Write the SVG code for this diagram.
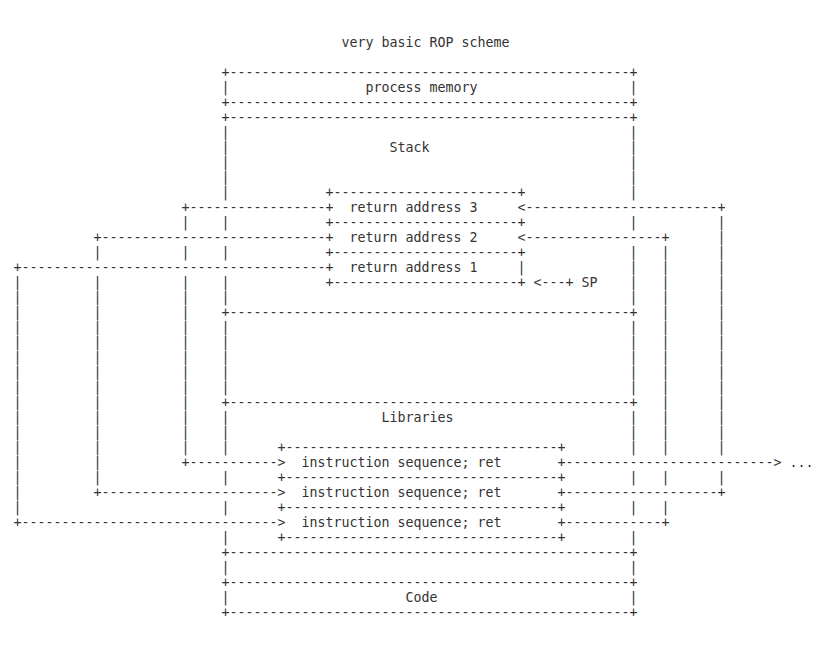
<svg xmlns="http://www.w3.org/2000/svg" width="828" height="672" viewBox="0 0 828 672">
<style>
text { font-family: "DejaVu Sans Mono", "Liberation Mono", monospace; font-size: 13.29px; fill: #333333; white-space: pre; }
</style>
<rect width="828" height="672" fill="#ffffff"/>
<g transform="translate(0,-1)">

<g id="title">
<text x="341.5" y="47.5">very basic ROP scheme</text>
</g>

<g id="process-memory">
<text x="221.5" y="77.5" textLength="416" lengthAdjust="spacing">+--------------------------------------------------+</text>
<text><tspan x="221.5" y="92.5">|</tspan><tspan x="629.5" y="92.5">|</tspan></text>
<text x="365.5" y="92.5">process memory</text>
<text x="221.5" y="107.5" textLength="416" lengthAdjust="spacing">+--------------------------------------------------+</text>
</g>

<g id="stack">
<text x="221.5" y="122.5" textLength="416" lengthAdjust="spacing">+--------------------------------------------------+</text>
<text><tspan x="221.5" y="137.5">|</tspan><tspan x="221.5" y="152.5">|</tspan><tspan x="221.5" y="167.5">|</tspan><tspan x="221.5" y="182.5">|</tspan><tspan x="221.5" y="197.5">|</tspan><tspan x="221.5" y="227.5">|</tspan><tspan x="221.5" y="257.5">|</tspan><tspan x="221.5" y="287.5">|</tspan><tspan x="221.5" y="302.5">|</tspan></text>
<text><tspan x="629.5" y="137.5">|</tspan><tspan x="629.5" y="152.5">|</tspan><tspan x="629.5" y="167.5">|</tspan><tspan x="629.5" y="182.5">|</tspan><tspan x="629.5" y="197.5">|</tspan><tspan x="629.5" y="227.5">|</tspan><tspan x="629.5" y="257.5">|</tspan><tspan x="629.5" y="272.5">|</tspan><tspan x="629.5" y="287.5">|</tspan><tspan x="629.5" y="302.5">|</tspan></text>
<text x="389.5" y="152.5">Stack</text>
</g>

<g id="return-addresses">
<text x="325.5" y="197.5" textLength="200" lengthAdjust="spacing">+-----------------------+</text>
<text x="349.5" y="212.5">return address 3</text>
<text x="325.5" y="227.5" textLength="200" lengthAdjust="spacing">+-----------------------+</text>
<text x="349.5" y="242.5">return address 2</text>
<text x="325.5" y="257.5" textLength="200" lengthAdjust="spacing">+-----------------------+</text>
<text x="349.5" y="272.5">return address 1</text>
<text x="517.5" y="272.5">|</text>
<text x="325.5" y="287.5" textLength="200" lengthAdjust="spacing">+-----------------------+</text>
</g>

<g id="sp">
<text x="581.5" y="287.5">SP</text>
</g>

<g id="free-region">
<text x="221.5" y="317.5" textLength="416" lengthAdjust="spacing">+--------------------------------------------------+</text>
<text><tspan x="221.5" y="332.5">|</tspan><tspan x="221.5" y="347.5">|</tspan><tspan x="221.5" y="362.5">|</tspan><tspan x="221.5" y="377.5">|</tspan><tspan x="221.5" y="392.5">|</tspan></text>
<text><tspan x="629.5" y="332.5">|</tspan><tspan x="629.5" y="347.5">|</tspan><tspan x="629.5" y="362.5">|</tspan><tspan x="629.5" y="377.5">|</tspan><tspan x="629.5" y="392.5">|</tspan></text>
</g>

<g id="libraries">
<text x="221.5" y="407.5" textLength="416" lengthAdjust="spacing">+--------------------------------------------------+</text>
<text><tspan x="221.5" y="422.5">|</tspan><tspan x="221.5" y="437.5">|</tspan><tspan x="221.5" y="452.5">|</tspan><tspan x="221.5" y="482.5">|</tspan><tspan x="221.5" y="512.5">|</tspan><tspan x="221.5" y="542.5">|</tspan></text>
<text><tspan x="629.5" y="422.5">|</tspan><tspan x="629.5" y="437.5">|</tspan><tspan x="629.5" y="452.5">|</tspan><tspan x="629.5" y="482.5">|</tspan><tspan x="629.5" y="512.5">|</tspan><tspan x="629.5" y="542.5">|</tspan></text>
<text x="381.5" y="422.5">Libraries</text>
</g>

<g id="gadgets">
<text x="277.5" y="452.5" textLength="288" lengthAdjust="spacing">+----------------------------------+</text>
<text x="301.5" y="467.5">instruction sequence; ret</text>
<text x="277.5" y="482.5" textLength="288" lengthAdjust="spacing">+----------------------------------+</text>
<text x="301.5" y="497.5">instruction sequence; ret</text>
<text x="277.5" y="512.5" textLength="288" lengthAdjust="spacing">+----------------------------------+</text>
<text x="301.5" y="527.5">instruction sequence; ret</text>
<text x="277.5" y="542.5" textLength="288" lengthAdjust="spacing">+----------------------------------+</text>
</g>

<g id="gap-region">
<text x="221.5" y="557.5" textLength="416" lengthAdjust="spacing">+--------------------------------------------------+</text>
<text><tspan x="221.5" y="572.5">|</tspan><tspan x="629.5" y="572.5">|</tspan></text>
</g>

<g id="code">
<text x="221.5" y="587.5" textLength="416" lengthAdjust="spacing">+--------------------------------------------------+</text>
<text><tspan x="221.5" y="602.5">|</tspan><tspan x="629.5" y="602.5">|</tspan></text>
<text x="405.5" y="602.5">Code</text>
<text x="221.5" y="617.5" textLength="416" lengthAdjust="spacing">+--------------------------------------------------+</text>
</g>

<g id="continuation">
<text x="789.5" y="467.5">...</text>
</g>

<g id="connectors">
<!-- return address 3 -> gadget 1 -->
<text x="181.5" y="212.5" textLength="152" lengthAdjust="spacing">+-----------------+</text>
<text><tspan x="181.5" y="227.5">|</tspan><tspan x="181.5" y="257.5">|</tspan><tspan x="181.5" y="287.5">|</tspan><tspan x="181.5" y="302.5">|</tspan><tspan x="181.5" y="317.5">|</tspan><tspan x="181.5" y="332.5">|</tspan><tspan x="181.5" y="347.5">|</tspan><tspan x="181.5" y="362.5">|</tspan><tspan x="181.5" y="377.5">|</tspan><tspan x="181.5" y="392.5">|</tspan><tspan x="181.5" y="407.5">|</tspan><tspan x="181.5" y="422.5">|</tspan><tspan x="181.5" y="437.5">|</tspan><tspan x="181.5" y="452.5">|</tspan></text>
<text x="181.5" y="467.5" textLength="104" lengthAdjust="spacing">+-----------&gt;</text>
<!-- return address 2 -> gadget 2 -->
<text x="93.5" y="242.5" textLength="240" lengthAdjust="spacing">+----------------------------+</text>
<text><tspan x="93.5" y="257.5">|</tspan><tspan x="93.5" y="287.5">|</tspan><tspan x="93.5" y="302.5">|</tspan><tspan x="93.5" y="317.5">|</tspan><tspan x="93.5" y="332.5">|</tspan><tspan x="93.5" y="347.5">|</tspan><tspan x="93.5" y="362.5">|</tspan><tspan x="93.5" y="377.5">|</tspan><tspan x="93.5" y="392.5">|</tspan><tspan x="93.5" y="407.5">|</tspan><tspan x="93.5" y="422.5">|</tspan><tspan x="93.5" y="437.5">|</tspan><tspan x="93.5" y="452.5">|</tspan><tspan x="93.5" y="467.5">|</tspan><tspan x="93.5" y="482.5">|</tspan></text>
<text x="93.5" y="497.5" textLength="192" lengthAdjust="spacing">+----------------------&gt;</text>
<!-- return address 1 -> gadget 3 -->
<text x="13.5" y="272.5" textLength="320" lengthAdjust="spacing">+--------------------------------------+</text>
<text><tspan x="13.5" y="287.5">|</tspan><tspan x="13.5" y="302.5">|</tspan><tspan x="13.5" y="317.5">|</tspan><tspan x="13.5" y="332.5">|</tspan><tspan x="13.5" y="347.5">|</tspan><tspan x="13.5" y="362.5">|</tspan><tspan x="13.5" y="377.5">|</tspan><tspan x="13.5" y="392.5">|</tspan><tspan x="13.5" y="407.5">|</tspan><tspan x="13.5" y="422.5">|</tspan><tspan x="13.5" y="437.5">|</tspan><tspan x="13.5" y="452.5">|</tspan><tspan x="13.5" y="467.5">|</tspan><tspan x="13.5" y="482.5">|</tspan><tspan x="13.5" y="497.5">|</tspan><tspan x="13.5" y="512.5">|</tspan></text>
<text x="13.5" y="527.5" textLength="272" lengthAdjust="spacing">+--------------------------------&gt;</text>
<!-- gadget 1 -> ... -->
<text x="557.5" y="467.5" textLength="224" lengthAdjust="spacing">+--------------------------&gt;</text>
<!-- gadget 2 -> return address 3 -->
<text x="557.5" y="497.5" textLength="168" lengthAdjust="spacing">+-------------------+</text>
<text><tspan x="717.5" y="227.5">|</tspan><tspan x="717.5" y="242.5">|</tspan><tspan x="717.5" y="257.5">|</tspan><tspan x="717.5" y="272.5">|</tspan><tspan x="717.5" y="287.5">|</tspan><tspan x="717.5" y="302.5">|</tspan><tspan x="717.5" y="317.5">|</tspan><tspan x="717.5" y="332.5">|</tspan><tspan x="717.5" y="347.5">|</tspan><tspan x="717.5" y="362.5">|</tspan><tspan x="717.5" y="377.5">|</tspan><tspan x="717.5" y="392.5">|</tspan><tspan x="717.5" y="407.5">|</tspan><tspan x="717.5" y="422.5">|</tspan><tspan x="717.5" y="437.5">|</tspan><tspan x="717.5" y="452.5">|</tspan><tspan x="717.5" y="482.5">|</tspan></text>
<text x="517.5" y="212.5" textLength="208" lengthAdjust="spacing">&lt;------------------------+</text>
<!-- gadget 3 -> return address 2 -->
<text x="557.5" y="527.5" textLength="112" lengthAdjust="spacing">+------------+</text>
<text><tspan x="661.5" y="257.5">|</tspan><tspan x="661.5" y="272.5">|</tspan><tspan x="661.5" y="287.5">|</tspan><tspan x="661.5" y="302.5">|</tspan><tspan x="661.5" y="317.5">|</tspan><tspan x="661.5" y="332.5">|</tspan><tspan x="661.5" y="347.5">|</tspan><tspan x="661.5" y="362.5">|</tspan><tspan x="661.5" y="377.5">|</tspan><tspan x="661.5" y="392.5">|</tspan><tspan x="661.5" y="407.5">|</tspan><tspan x="661.5" y="422.5">|</tspan><tspan x="661.5" y="437.5">|</tspan><tspan x="661.5" y="452.5">|</tspan><tspan x="661.5" y="482.5">|</tspan><tspan x="661.5" y="512.5">|</tspan></text>
<text x="517.5" y="242.5" textLength="152" lengthAdjust="spacing">&lt;-----------------+</text>
<!-- SP pointer -->
<text x="533.5" y="287.5" textLength="40" lengthAdjust="spacing">&lt;---+</text>
</g>
</g>
</svg>
